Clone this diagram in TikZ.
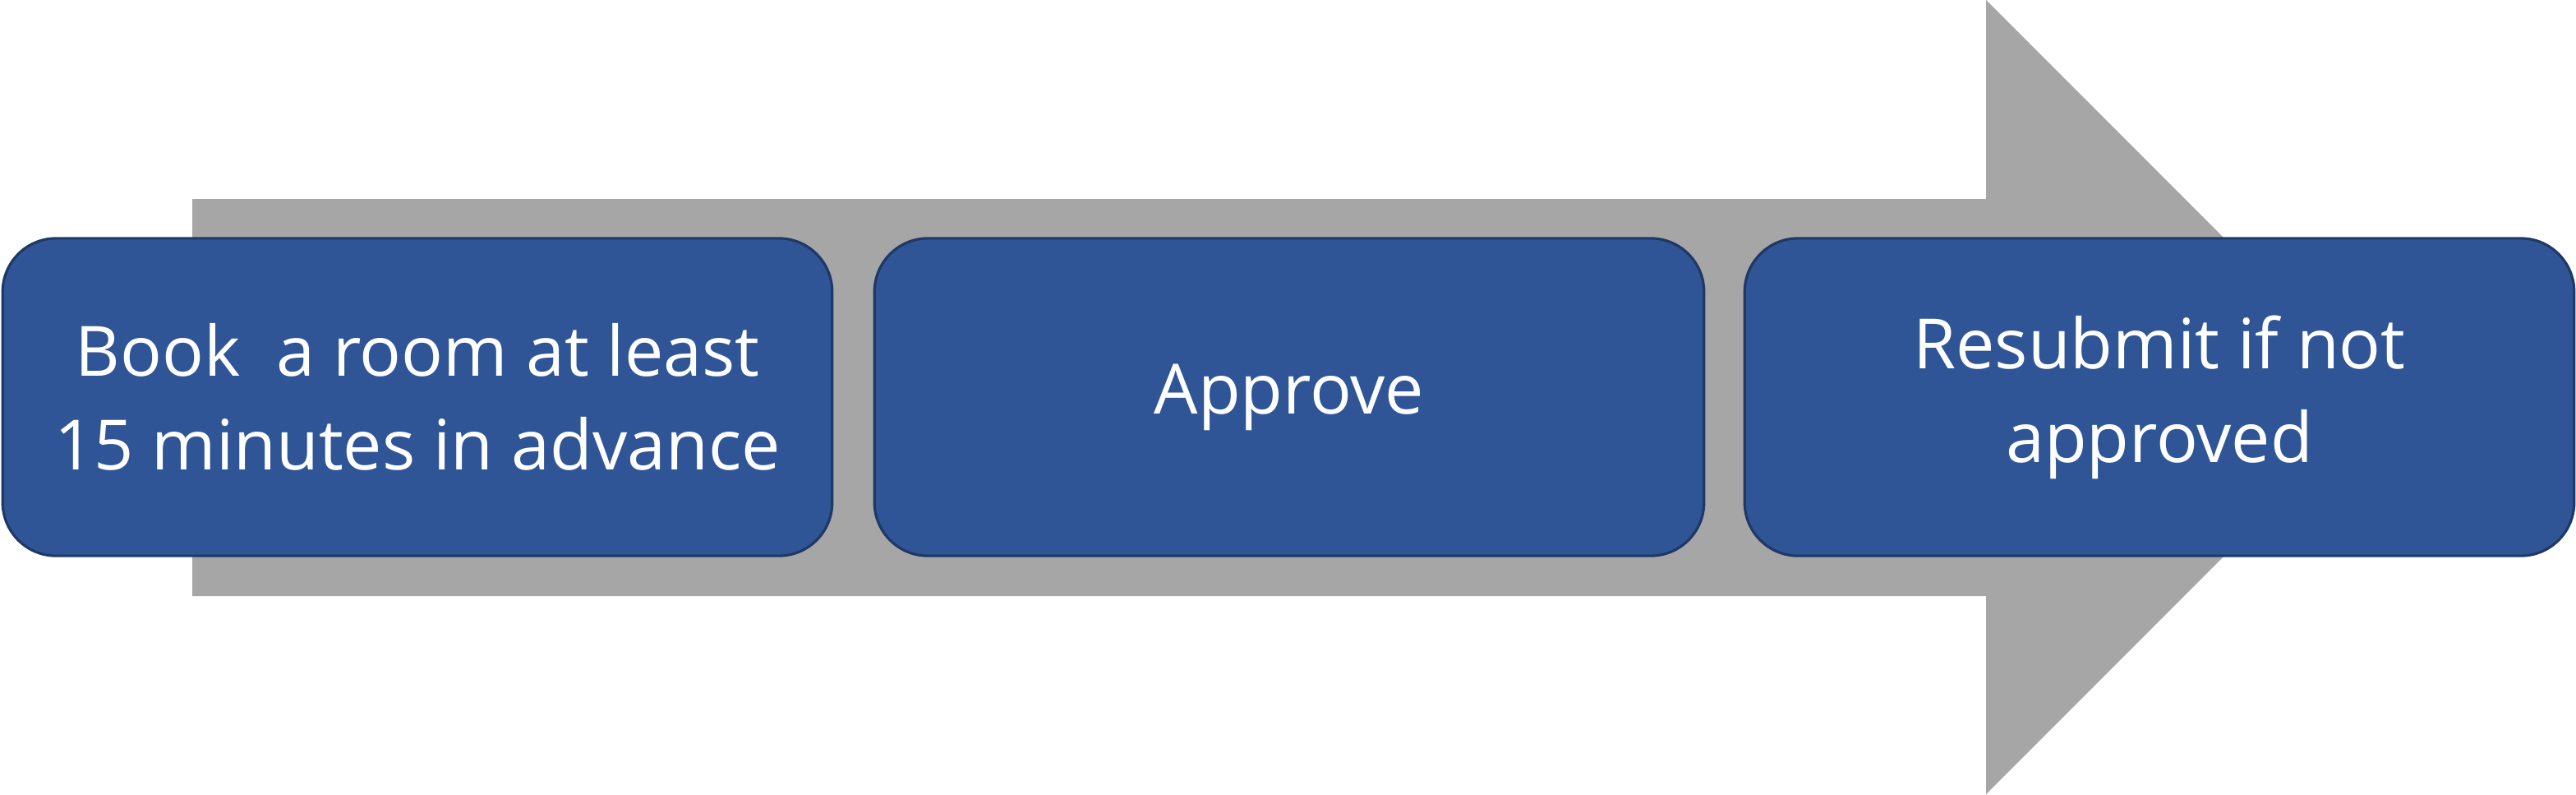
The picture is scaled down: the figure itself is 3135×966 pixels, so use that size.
\documentclass[tikz,border=0pt]{standalone}
\usepackage{fontspec}
\setmainfont{Open Sans}
\definecolor{arrowgrey}{HTML}{A6A6A6}
\definecolor{boxfill}{HTML}{2F5597}
\definecolor{boxline}{HTML}{1F3864}
\begin{document}
\begin{tikzpicture}[x=0.01cm,y=-0.01cm,
  stepbox/.style={draw=boxline, line width=0.9pt, fill=boxfill, rounded corners=0.65cm,
    minimum width=10.09cm, minimum height=3.86cm, inner sep=0pt, text=white,
    align=center, font=\fontsize{24}{32.5}\selectfont}]
\useasboundingbox (0,0) rectangle (3135,966);
\fill[arrowgrey] (234,242) -- (2417,242) -- (2417,0) -- (2900,483) -- (2417,966) -- (2417,725) -- (234,725) -- cycle;
\node[stepbox] (b1) at (508,483) {Book\ \ a room at least\\15 minutes in advance};
\node[stepbox] (b2) at (1569,483) {Approve};
\node[stepbox] (b3) at (2628,483) {Resubmit if not\\approved};
\end{tikzpicture}
\end{document}
